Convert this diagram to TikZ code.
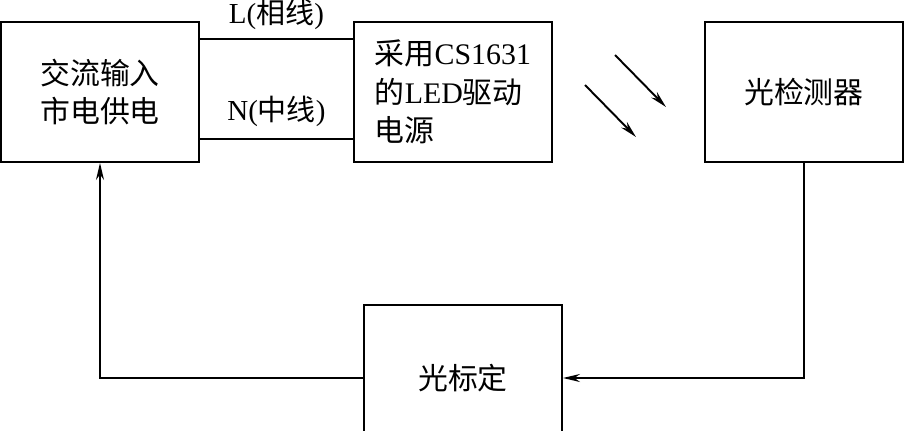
\documentclass[tikz,border=0pt]{standalone}
\usepackage{fontspec}
\setmainfont{Liberation Serif}
\newfontfamily\cjk{Noto Sans CJK SC}
\usetikzlibrary{arrows.meta,positioning,calc}
\newcommand{\zh}[1]{{\cjk #1}}

\begin{document}
\begin{tikzpicture}[
  node distance=31mm,
  blk/.style={draw,line width=1.1pt,minimum width=3.96cm,minimum height=2.8cm,align=left,font=\fontsize{17}{22}\selectfont},
  wire/.style={line width=1.1pt},
  arr/.style={-{Stealth[length=3.4mm,width=1.6mm]},line width=1.1pt},
  lbl/.style={font=\fontsize{16.5}{18}\selectfont}
]
  \useasboundingbox (0,0) rectangle (18.1,-8.6);
  \node[blk] (ac) at (2.0,-1.84) {\zh{交流输入}\\\zh{市电供电}};
  \node[blk,right=3.06cm of ac] (drv) {\zh{采用}CS1631\\\zh{的}LED\zh{驱动}\\\zh{电源}};
  \node[blk,right=3.02cm of drv] (det) {\zh{光检测器}};
  \node[blk,minimum height=2.92cm] (cal) at (9.26,-7.56) {\zh{光标定}};
  % mains wires
  \draw[wire] ([yshift=-3.6mm]ac.north east) -- node[lbl,above=0.5mm]{L(\zh{相线})} ([yshift=-3.6mm]drv.north west);
  \draw[wire] ([yshift=4.8mm]ac.south east) -- node[lbl,above=1mm]{N(\zh{中线})} ([yshift=4.8mm]drv.south west);
  % light rays
  \coordinate (ray1a) at (12.3,-1.1);
  \coordinate (ray1b) at (13.32,-2.14);
  \coordinate (ray2a) at (11.7,-1.7);
  \coordinate (ray2b) at (12.72,-2.74);
  \draw[arr] (ray1a) -- (ray1b);
  \draw[arr] (ray2a) -- (ray2b);
  % feedback loop
  \draw[arr] (det.south) |- (cal.east);
  \draw[arr] (cal.west) -| (ac.south);
\end{tikzpicture}
\end{document}
